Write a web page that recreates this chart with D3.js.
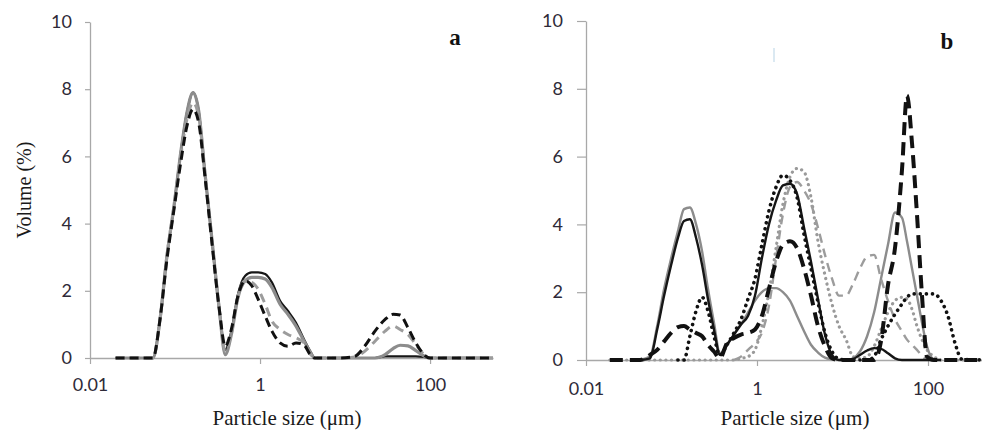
<!DOCTYPE html>
<html>
<head>
<meta charset="utf-8">
<script src="https://cdnjs.cloudflare.com/ajax/libs/d3/7.8.5/d3.min.js"></script>
<style>
  body { margin: 0; background: #fff; }
  svg { display: block; }
</style>
</head>
<body>
<div id="chart"></div>
<script>
// particle size distributions, two panels (a, b)

const y_ticks = [0, 2, 4, 6, 8, 10];
const x_ticks = [0.01, 1, 100];
const x_tick_labels = ["0.01", "1", "100"];

// panel a - sizes in um, volume in %
const sizes_a = [0.02, 0.055, 0.067, 0.08, 0.097, 0.118, 0.138, 0.163, 0.19, 0.225,
  0.27, 0.33, 0.39, 0.46, 0.55, 0.67, 0.8, 0.95, 1.15, 1.38,
  1.72, 2.13, 2.65, 3.3, 3.9, 4.4, 8.7, 13, 17, 22.5,
  29.6, 36.7, 44.4, 55, 68, 85, 100, 550];
const a_gray_solid = [0, 0, 1.2, 3.0, 4.5, 6.2, 7.3, 7.9, 7.35, 5.5,
  3.6, 1.5, 0.1, 0.7, 1.8, 2.3, 2.4, 2.4, 2.35, 2.1,
  1.6, 1.3, 0.95, 0.5, 0.18, 0, 0, 0, 0, 0,
  0.1, 0.28, 0.38, 0.36, 0.22, 0.06, 0, 0];
const a_black_solid = [0, 0, 1.2, 3.0, 4.5, 6.2, 7.3, 7.9, 7.35, 5.5,
  3.6, 1.5, 0.25, 0.8, 1.9, 2.45, 2.55, 2.55, 2.5, 2.25,
  1.7, 1.4, 1.05, 0.55, 0.2, 0, 0, 0, 0, 0,
  0.05, 0.05, 0.05, 0.05, 0.05, 0.03, 0, 0];
const a_gray_dash = [0, 0, 1.2, 3.0, 4.5, 6.1, 7.1, 7.6, 7.2, 5.5,
  3.6, 1.5, 0.2, 0.75, 1.85, 2.3, 2.25, 2.05, 1.6, 1.1,
  0.85, 0.7, 0.6, 0.45, 0.12, 0, 0, 0.03, 0.2, 0.5,
  0.8, 0.95, 0.85, 0.7, 0.4, 0.1, 0, 0];
const a_black_dash = [0, 0, 1.2, 2.9, 4.4, 5.9, 6.9, 7.4, 7.0, 5.4,
  3.5, 1.5, 0.35, 0.85, 1.85, 2.3, 2.15, 1.75, 1.25, 0.8,
  0.45, 0.35, 0.45, 0.38, 0.1, 0, 0, 0.05, 0.35, 0.8,
  1.15, 1.3, 1.28, 0.9, 0.45, 0.1, 0, 0];

// panel b
const sizes_b = [0.019, 0.043, 0.056, 0.068, 0.082, 0.099, 0.119, 0.14, 0.164, 0.194,
  0.228, 0.267, 0.314, 0.369, 0.446, 0.538, 0.65, 0.785, 0.948, 1.14,
  1.38, 1.67, 2.01, 2.43, 2.94, 3.55, 4.28, 5.17, 6.24, 7.54,
  9.1, 11, 13.3, 16, 19.4, 23.4, 28.2, 34, 41.1, 49.6,
  56.8, 65, 74.3, 85.1, 97.3, 117, 142, 171, 207, 250, 531];
const b_gray_solid = [null, 0, 0.1, 1.0, 2.1, 3.0, 3.8, 4.45, 4.5, 4.0,
  3.2, 2.1, 1.1, 0.2, 0.45, 0.75, 1.05, 1.4, 1.75, 2.0,
  2.12, 2.12, 2.0, 1.75, 1.3, 0.85, 0.45, 0.22, 0.07, 0.02,
  0, 0, 0.05, 0.25, 0.7, 1.4, 2.4, 3.4, 4.35, 4.2,
  3.5, 2.7, 1.9, 1.1, 0.4, 0.02, 0, null, null, null, null];
const b_black_solid = [null, 0, 0.05, 0.9, 1.9, 2.8, 3.6, 4.1, 4.15, 3.6,
  2.8, 1.8, 0.9, 0.15, 0.45, 0.75, 1.05, 1.3, 1.9, 3.0,
  4.0, 4.7, 5.15, 5.2, 4.9, 3.9, 2.9, 1.8, 0.75, 0.15,
  0, 0, 0.03, 0.15, 0.28, 0.35, 0.33, 0.2, 0.05, 0,
  0, 0, 0, 0, 0, 0, 0, null, null, null, null];
const b_gray_dash = [null, null, null, null, null, null, null, null, null, null,
  null, null, null, null, null, 0, 0.1, 0.3, 0.5, 0.8,
  1.6, 3.0, 4.3, 5.1, 5.25, 5.0, 4.6, 3.9, 3.1, 2.4,
  1.9, 1.9, 2.25, 2.7, 3.05, 3.1, 2.4, 1.75, 1.2, 0.85,
  0.6, 0.45, 0.3, 0.12, 0, null, null, null, null, null, null];
const b_gray_dot = [0, 0, 0, 0, 0, 0, 0, 0, 0, 0,
  0, 0, 0, 0, 0, 0, 0.05, 0.1, 0.3, 1.0,
  2.0, 3.3, 4.6, 5.4, 5.65, 5.55, 4.8, 3.5, 2.5, 1.65,
  1.0, 0.6, 0.1, 0.05, 0.1, 0.4, 0.9, 1.4, 1.75, 1.85,
  1.8, 1.5, 1.0, 0.6, 0.3, 0.1, 0, 0, 0, 0, 0];
const b_black_dot = [null, null, null, null, null, null, 0, 0, 0.7, 1.45,
  1.85, 1.45, 0.7, 0.15, 0.45, 0.8, 1.2, 1.8, 2.4, 3.4,
  4.4, 5.1, 5.45, 5.3, 4.8, 3.7, 2.7, 1.7, 0.8, 0.25,
  0.03, 0, 0, 0, 0, 0.1, 0.6, 1.0, 1.35, 1.65,
  1.85, 1.95, 1.95, 1.95, 1.95, 1.95, 1.75, 1.3, 0.5, 0.02, 0];
const b_black_dash = [0, 0, 0.15, 0.3, 0.55, 0.8, 0.97, 1.0, 0.9, 0.8,
  0.7, 0.45, 0.25, 0.05, 0.5, 0.65, 0.75, 0.8, 0.9, 1.3,
  2.1, 2.9, 3.4, 3.5, 3.3, 2.7, 1.9, 1.0, 0.4, 0.05,
  0, 0, 0, 0, 0, 0, 0.55, 2.2, 3.3, 5.6,
  7.8, 6.4, 4.3, 1.9, 0.1, 0, 0, 0, 0, 0, 0];

const width = 982, height = 433;

let svg = d3.select("#chart").append("svg")
    .attr("width", width)
    .attr("height", height);

const tick_font = "Lato, 'Open Sans', sans-serif";
const title_font = "'Liberation Serif', 'DejaVu Serif', serif";

function draw_panel(p) {
    let x = d3.scaleLog().domain(p.x_domain).range(p.x_range);
    let y = d3.scaleLinear().domain([0, 10]).range(p.y_range);

    let g = svg.append("g").attr("class", "panel_" + p.name);

    // y axis
    let y_axis = g.append("g")
        .attr("transform", `translate(${p.x_range[0]},0)`)
        .call(d3.axisLeft(y).tickValues(y_ticks).tickSize(p.y_tick).tickSizeOuter(0).tickPadding(p.y_pad));

    // x axis on the zero line
    let x_axis = g.append("g")
        .attr("transform", `translate(0,${y(0)})`)
        .call(d3.axisBottom(x).tickValues(x_ticks)
            .tickFormat((d, i) => x_tick_labels[i])
            .tickSize(6).tickSizeOuter(0).tickPadding(p.x_pad));

    [y_axis, x_axis].forEach(ax => {
        ax.select(".domain").attr("stroke", "#a8a8a8").attr("stroke-width", 1.3);
        ax.selectAll(".tick line").attr("stroke", "#a8a8a8").attr("stroke-width", 1.2);
        ax.selectAll(".tick text")
            .attr("fill", "#2e2a38")
            .style("font-family", tick_font)
            .style("font-size", "18px");
    });

    // curves
    p.series.forEach(s => {
        let line = d3.line()
            .defined(d => d[1] !== null)
            .x(d => x(d[0]))
            .y(d => y(d[1]))
            .curve(d3.curveMonotoneX);
        let pts = p.sizes.map((v, i) => [v, s.values[i]]);
        g.append("path")
            .datum(pts)
            .attr("d", line)
            .attr("fill", "none")
            .attr("stroke", s.color)
            .attr("stroke-width", s.width)
            .attr("stroke-dasharray", s.dash)
            .attr("stroke-linecap", s.cap || "butt")
            .attr("stroke-linejoin", "round");
    });

    // x title
    g.append("text")
        .attr("x", p.x_title_x)
        .attr("y", 425)
        .attr("text-anchor", "middle")
        .attr("fill", "#1a1a1a")
        .style("font-family", title_font)
        .style("font-size", "21px")
        .text("Particle size (\u03bcm)");

    // panel letter
    g.append("text")
        .attr("x", p.letter_x)
        .attr("y", p.letter_y)
        .attr("text-anchor", "middle")
        .attr("fill", "#111")
        .style("font-family", title_font)
        .style("font-weight", "bold")
        .style("font-size", "23px")
        .text(p.name);
}

draw_panel({
    name: "a",
    sizes: sizes_a,
    x_domain: [0.01, 550],
    x_range: [90, 493],
    y_range: [358, 22],
    y_tick: 5, y_pad: 13, x_pad: 14,
    x_title_x: 287,
    letter_x: 455, letter_y: 45,
    series: [
        {values: a_black_solid, color: "#161616", width: 2.2, dash: null},
        {values: a_gray_solid, color: "#8c8c8c", width: 3.2, dash: null},
        {values: a_gray_dash, color: "#9c9c9c", width: 3, dash: "9,6"},
        {values: a_black_dash, color: "#111", width: 3, dash: "9,5"}
    ]
});

draw_panel({
    name: "b",
    sizes: sizes_b,
    x_domain: [0.01, 1000],
    x_range: [586, 1013.5],
    y_range: [360, 21],
    y_tick: 9, y_pad: 14, x_pad: 16,
    x_title_x: 795,
    letter_x: 947, letter_y: 49,
    series: [
        {values: b_gray_dot, color: "#9a9a9a", width: 3.2, dash: "0.1,5.5", cap: "round"},
        {values: b_gray_solid, color: "#8c8c8c", width: 2.4, dash: null},
        {values: b_gray_dash, color: "#9c9c9c", width: 2.4, dash: "9,6"},
        {values: b_black_solid, color: "#161616", width: 2.4, dash: null},
        {values: b_black_dot, color: "#111", width: 3.6, dash: "0.1,6", cap: "round"},
        {values: b_black_dash, color: "#111", width: 4, dash: "13,7"}
    ]
});

// y axis title, left panel only
svg.append("text")
    .attr("transform", "translate(31,190) rotate(-90)")
    .attr("text-anchor", "middle")
    .attr("fill", "#1a1a1a")
    .style("font-family", title_font)
    .style("font-size", "20px")
    .text("Volume (%)");

// faint scan mark in panel b
svg.append("line")
    .attr("x1", 774).attr("x2", 774)
    .attr("y1", 48).attr("y2", 62)
    .attr("stroke", "#cfe2ee")
    .attr("stroke-width", 1.5);
</script>
</body>
</html>
